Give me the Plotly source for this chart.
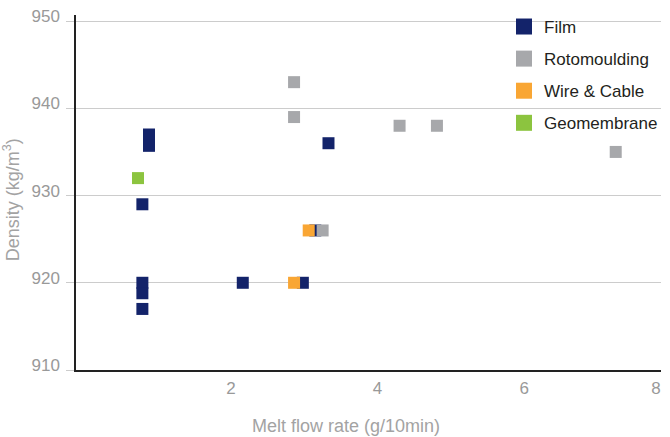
import plotly.graph_objects as go

# Data
film_x = [0.79, 0.79, 0.79, 0.79, 0.88, 0.88, 2.16, 2.98, 3.15, 3.33]
film_y = [929, 920, 918.8, 917, 937, 935.7, 920, 920, 926, 936]
roto_x = [2.86, 2.86, 4.30, 4.81, 7.25, 3.25]
roto_y = [943, 939, 938, 938, 935, 926]
wire_x = [2.86, 3.06]
wire_y = [920, 926]
geo_x = [0.73]
geo_y = [932]

series_names = ["Film", "Rotomoulding", "Wire & Cable", "Geomembrane"]
series_colors = ["#13236a", "#a7a8ab", "#f9a634", "#8cc43f"]

y_ticks = [910, 920, 930, 940, 950]
x_tickvals = [2, 4, 6, 7.8]
x_ticktext = ["2", "4", "6", "8"]

FONT = "Liberation Sans, Arial, Helvetica, sans-serif"

fig = go.Figure()
series = [(film_x, film_y), (roto_x, roto_y), (wire_x, wire_y), (geo_x, geo_y)]
for (xs, ys), name, col in zip(series, series_names, series_colors):
    fig.add_trace(go.Scatter(
        x=xs, y=ys, mode="markers", name=name, showlegend=False,
        marker=dict(symbol="square", size=12, color=col, line=dict(width=0)),
    ))
# legend-only entries (larger swatches)
for name, col in zip(series_names, series_colors):
    fig.add_trace(go.Scatter(
        x=[None], y=[None], mode="markers", name=name, legendgroup=name,
        marker=dict(symbol="square", size=16, color=col, line=dict(width=0)),
    ))

fig.update_layout(
    width=670, height=437,
    margin=dict(l=76, r=8, t=15, b=67),
    paper_bgcolor="white", plot_bgcolor="white",
    font=dict(family=FONT, size=17, color="#999999"),
    showlegend=True,
    legend=dict(
        x=0.7304, xanchor="left", y=1.017, yanchor="top",
        bgcolor="rgba(0,0,0,0)", font=dict(size=17, color="#231f20"),
        itemsizing="trace", tracegroupgap=7, itemwidth=30,
    ),
    xaxis=dict(
        range=[-0.116, 7.868], showgrid=False, zeroline=False,
        showline=True, linecolor="#222222", linewidth=1.5,
        tickvals=x_tickvals, ticktext=x_ticktext, ticks="",
        ticklabelstandoff=2,
        tickfont=dict(size=17, color="#999999"),
    ),
    yaxis=dict(
        range=[910, 950.7], showgrid=True, gridcolor="#cccccc", gridwidth=1,
        zeroline=False, showline=True, linecolor="#222222", linewidth=1.5,
        tickvals=y_ticks, ticks="outside", ticklen=8, tickcolor="#cccccc",
        tickwidth=1, ticklabelstandoff=3, ticklabelshift=-5,
        tickfont=dict(size=17, color="#999999"),
    ),
    shapes=[dict(
        type="rect", xref="paper", yref="paper", x0=0.668, x1=1.02,
        y0=0.6, y1=1.02, fillcolor="white", line=dict(width=0), layer="between",
    )],
    annotations=[
        dict(text="Melt flow rate (g/10min)", xref="paper", yref="paper",
             x=0.461, y=-0.159, xanchor="center", yanchor="middle",
             showarrow=False, font=dict(size=18, color="#a3a3a3")),
        dict(text="Density (kg/m<sup>3</sup>)", xref="paper", yref="paper",
             x=-0.11, y=0.48, xanchor="center", yanchor="middle", textangle=-90,
             showarrow=False, font=dict(size=18, color="#a3a3a3")),
    ],
)

fig.write_html("out.html", config={"displayModeBar": False},
               post_script="document.body.style.margin='0';")
